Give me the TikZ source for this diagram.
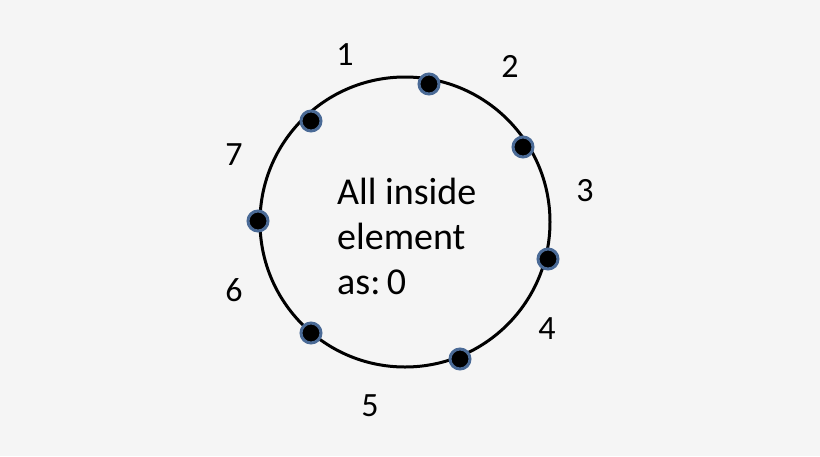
\documentclass[tikz,border=0pt]{standalone}
\usepackage{fontspec}
\setmainfont{Carlito}
\definecolor{rim}{HTML}{4A6A96}
\begin{document}
\begin{tikzpicture}[x=1pt,y=-1pt,
  dot/.style={circle,fill=black,draw=rim,line width=3pt,minimum size=20pt,inner sep=0pt},
  lbl/.style={font=\fontsize{34}{40}\selectfont}]
\useasboundingbox[fill=black!4] (0,0) rectangle (820,456);
\node[circle,draw,line width=3pt,minimum size=290pt,inner sep=0pt] (c) at (405,222) {};
\node[dot] (d1) at (429,84) {};
\node[dot] (d2) at (523,147) {};
\node[dot] (d3) at (548,259) {};
\node[dot] (d4) at (460,359) {};
\node[dot] (d5) at (311,333) {};
\node[dot] (d6) at (258,221) {};
\node[dot] (d7) at (311,121) {};
\node[lbl] (l1) at (345,55) {1};
\node[lbl] (l2) at (510,66) {2};
\node[lbl] (l3) at (585,191) {3};
\node[lbl] (l4) at (547,329) {4};
\node[lbl] (l5) at (370,406) {5};
\node[lbl] (l6) at (234,290) {6};
\node[lbl] (l7) at (234,155) {7};
\node[anchor=west,align=left,inner sep=0pt,font=\fontsize{38}{45}\selectfont] (t) at (337,236) {All inside\\element\\as:\,0};
\end{tikzpicture}
\end{document}
